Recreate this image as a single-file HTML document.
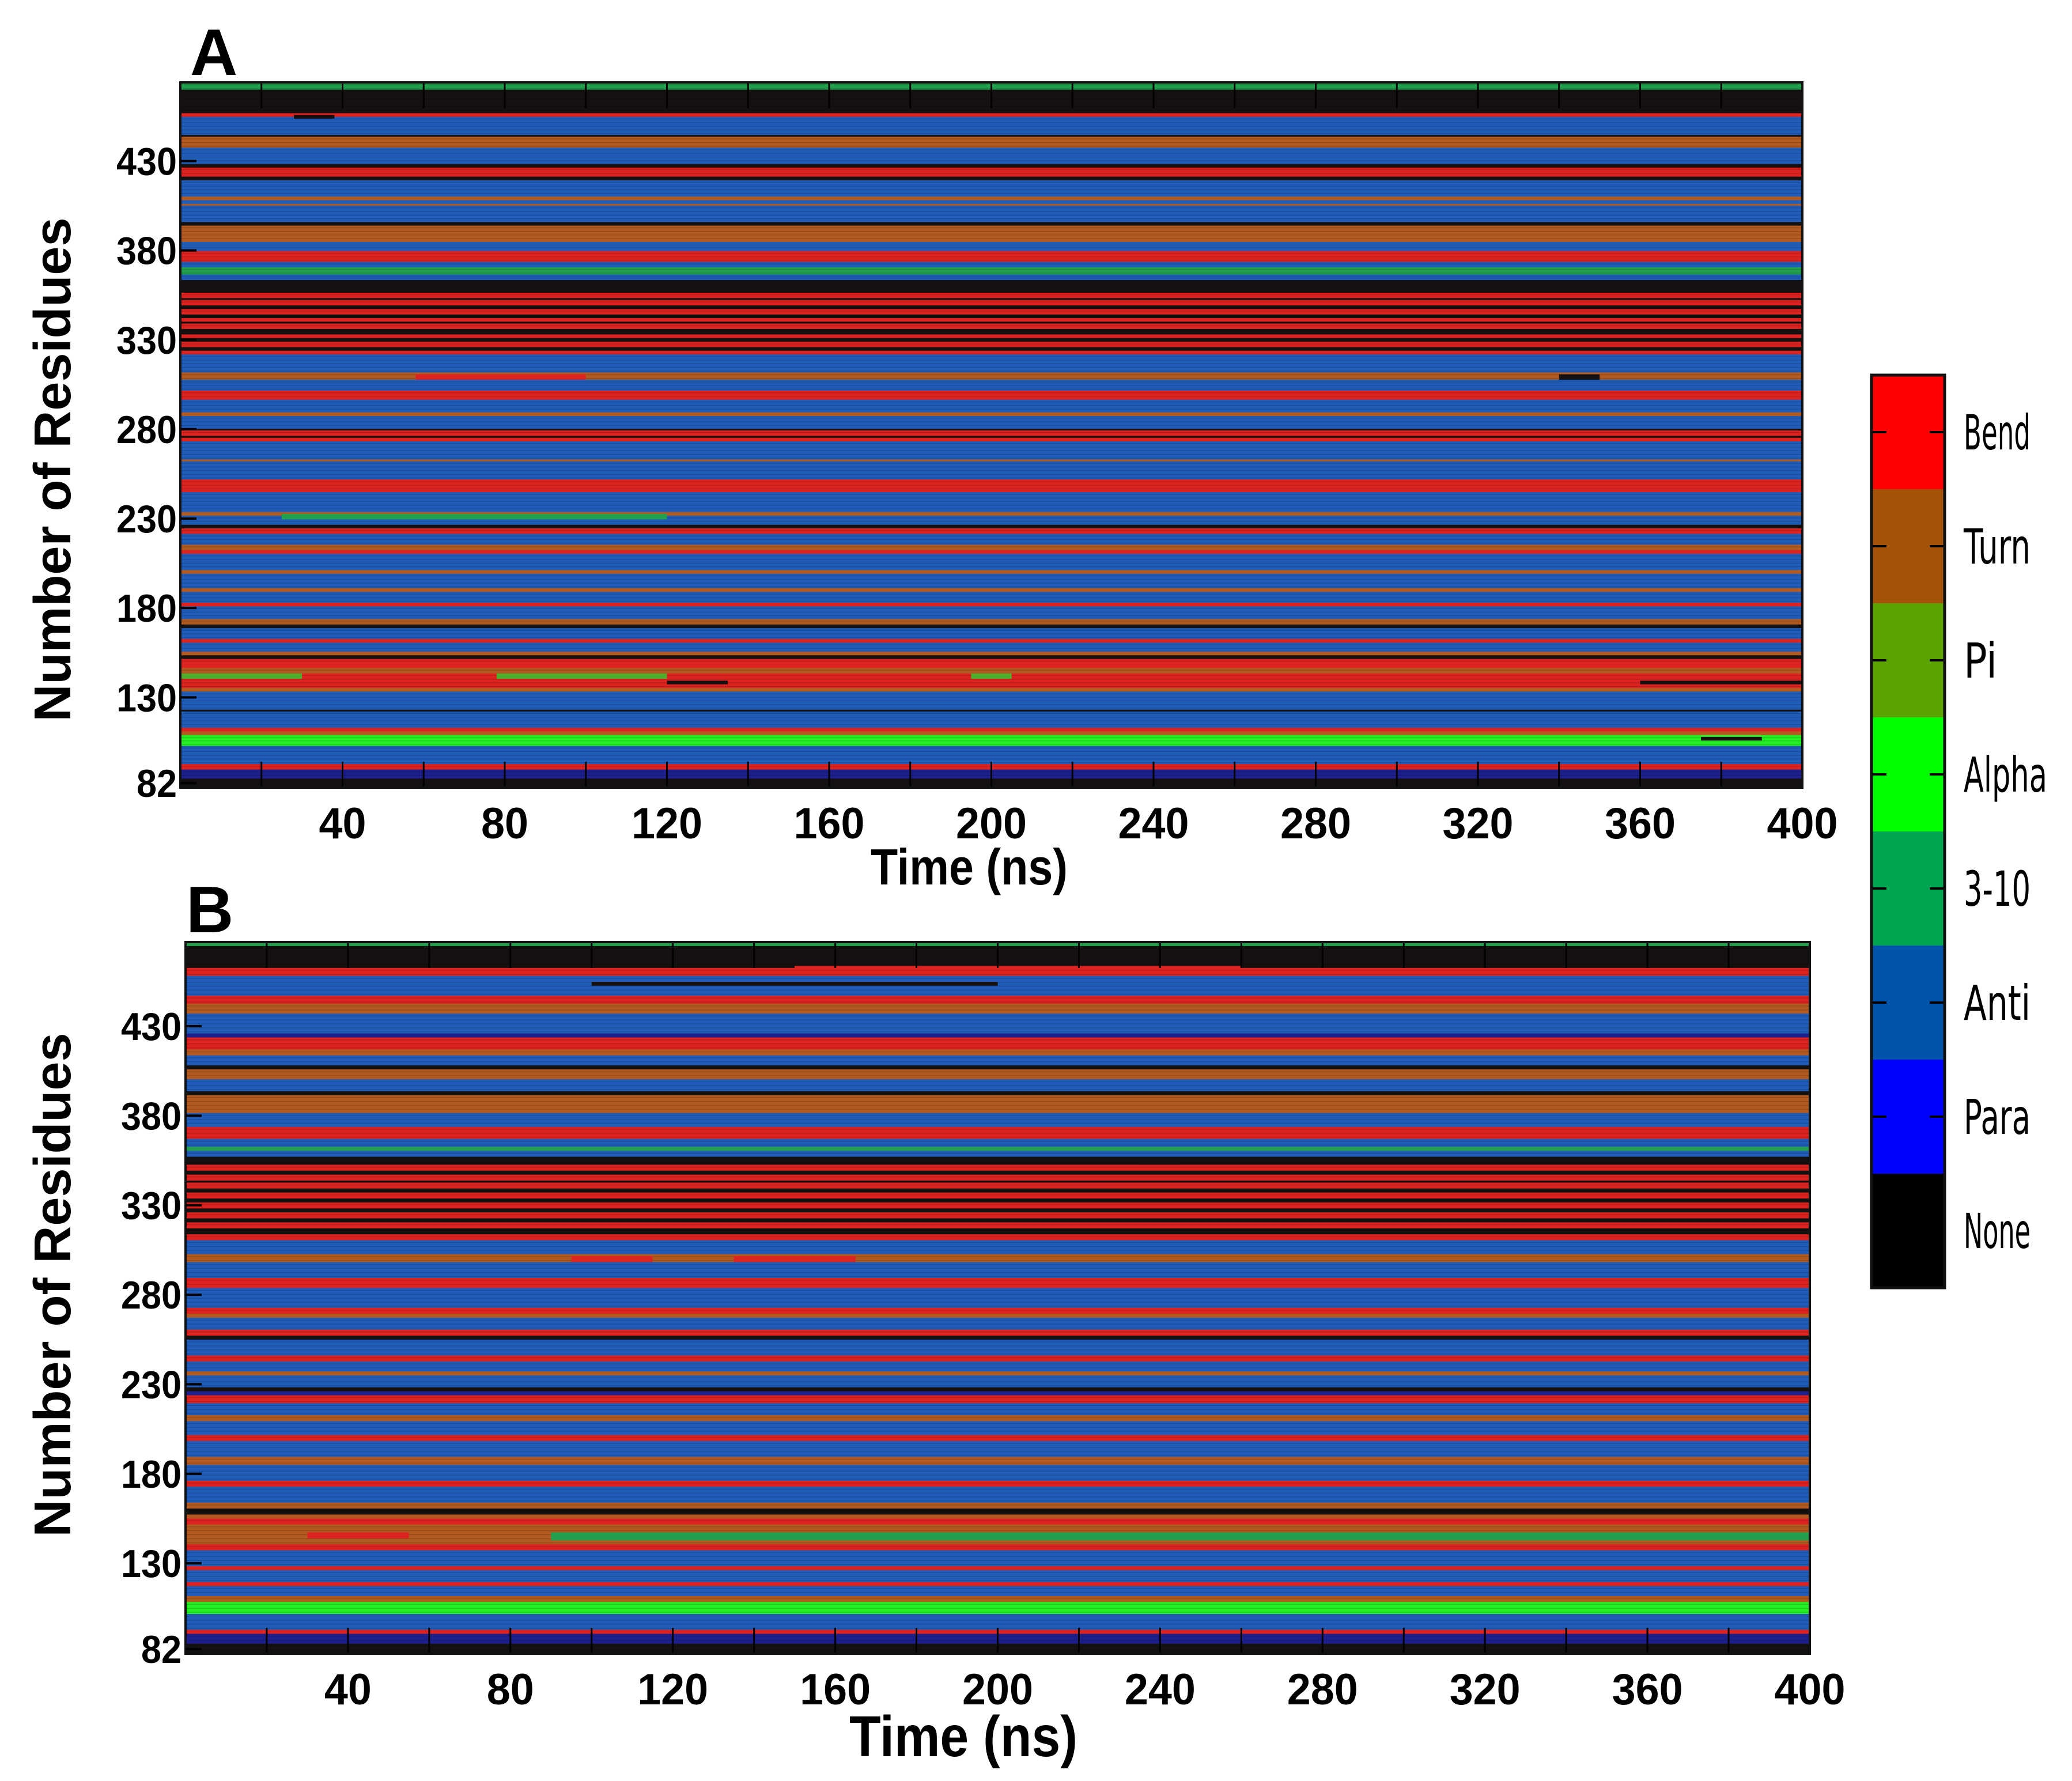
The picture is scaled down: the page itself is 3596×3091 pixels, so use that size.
<!DOCTYPE html>
<html><head><meta charset="utf-8"><style>
html,body{margin:0;padding:0;background:#fff;}
svg{display:block;}
</style></head><body>
<svg id="fig" xmlns="http://www.w3.org/2000/svg" width="3596" height="3091" viewBox="0 0 3596 3091">
<rect x="0" y="0" width="3596" height="3091" fill="#fff"/>
</svg>
<script>
// ---- data ----
const timeTicks = [40,80,120,160,200,240,280,320,360,400];
const minorTicks = [20,40,60,80,100,120,140,160,180,200,220,240,260,280,300,320,340,360,380];
const resTicks = [82,130,180,230,280,330,380,430];
const legendLabels = ["Bend","Turn","Pi","Alpha","3-10","Anti","Para","None"];
const legendCodes = ["S","T","I","H","G","E","B","N"];
// residue secondary-structure runs, top (high residue) to bottom
const runsA = "G4 N13 S2 E10 N1 T6 E9 N2 S5 N2 E9 T2 E2 T1 E9 N2 T9 E5 S6 E3 G4 E3 N7 S3 N1 S3 N2 S3 N2 S2 N1 S3 N3 S2 N2 S3 N2 S2 E10 T4 E6 S5 E7 T2 E7 N1 S3 N1 S2 E10 T1 E10 S7 E11 T2 E5 N2 S3 E6 T3 S2 E9 T2 E8 T2 E6 S2 E7 T3 N2 E6 S2 E5 T2 N2 S3 S2 T3 S8 T2 E10 N1 E9 S2 T2 H6 E10 S3 B5 N5".split(" ");
const runsB = "G2 N11 S4 E10 S4 T5 E10 B2 S6 T3 E5 N2 T5 E6 N2 T9 E7 S6 E4 G2 E3 N4 S3 N2 S3 N1 S3 N2 S3 N2 S3 N2 S3 N2 S3 N3 S3 E7 T4 E8 S5 E10 S3 T2 E6 S3 N2 E8 S3 E5 T2 E6 N2 B2 S4 E6 T3 E7 S3 E8 T4 E8 S3 E8 T3 N3 T2 S3 T4 T6 S3 E8 S2 E6 S2 E5 T3 H6 E8 S2 B5 N5".split(" ");
// time-dependent events: row index (from top), start ns, end ns, state
const evRowA   = [18, 161, 161, 238, 326, 326, 326, 330, 330, 361];
const evRowsA  = [2, 3, 3, 3, 3, 3, 3, 2, 2, 2];
const evStartA = [28, 58, 340, 25, 0, 78, 195, 120, 360, 375];
const evEndA   = [38, 100, 350, 120, 30, 120, 205, 135, 400, 390];
const evStateA = ["N","S","N","G","I","I","I","N","N","N"];
const evRowB   = [297, 297, 158, 158, 110, 12, 20];
const evRowsB  = [4, 3, 3, 3, 2, 2, 2];
const evStartB = [90, 30, 95, 135, 235, 150, 100];
const evEndB   = [400, 55, 115, 165, 245, 260, 200];
const evStateB = ["G","S","S","S","N","S","N"];

const heatColor = {S:"#dc2320",T:"#b25a1f",I:"#4fae2a",H:"#25f025",G:"#22a04e",E:"#1f5db8",B:"#1d1f8c",N:"#151111"};
const legendColor = {S:"#ff0000",T:"#a6530a",I:"#5ba400",H:"#00ff00",G:"#00a651",E:"#0055aa",B:"#0000ff",N:"#000000"};

const NS = "http://www.w3.org/2000/svg";
const svg = document.getElementById("fig");
function mk(tag, attrs, parent){
  const e = document.createElementNS(NS, tag);
  for (const k in attrs) e.setAttribute(k, attrs[k]);
  (parent||svg).appendChild(e);
  return e;
}
const FONT = '"Liberation Sans", Arial, sans-serif';

function drawPanel(p){
  const g = mk("g", {});
  
  
  const xs = t => p.x0 + (t/400)*(p.x1-p.x0);
  const ys = r => p.y1 - (r - p.rmin)/(p.rmax - p.rmin)*(p.y1-p.y0);
  const codes = p.runs.map(s=>s[0]);
  const lens = p.runs.map(s=>parseInt(s.slice(1)));
  const total = lens.reduce((a,b)=>a+b,0);
  const rh = (p.y1-p.y0)/total;
  const hm = mk("g", {}, g);
  
  
  let idx = 0;
  codes.forEach((c,i)=>{
    const r = mk("rect", {x:p.x0, y:(p.y0+idx*rh).toFixed(2), width:p.x1-p.x0, height:(lens[i]*rh+0.6).toFixed(2), fill:heatColor[c]}, hm);
    
    
    if (lens[i] > 2) {
      for (let k=1;k<lens[i];k+=2){
        mk("rect",{x:p.x0,y:(p.y0+(idx+k)*rh).toFixed(2),width:p.x1-p.x0,height:1.2,fill:"#000",opacity:0.18},hm);
      }
    }
    idx += lens[i];
  });
  p.evRow.forEach((row,i)=>{
    const e = mk("rect", {x:xs(p.evStart[i]).toFixed(1), y:(p.y0+row*rh).toFixed(2), width:(xs(p.evEnd[i])-xs(p.evStart[i])).toFixed(1), height:(p.evRows[i]*rh).toFixed(2), fill:heatColor[p.evState[i]]}, hm);
    
    
  });
  minorTicks.forEach(t=>{
    const x = xs(t);
    mk("line",{x1:x,y1:p.y0,x2:x,y2:p.y0+45,stroke:"#000","stroke-width":3},g);
    mk("line",{x1:x,y1:p.y1,x2:x,y2:p.y1-45,stroke:"#000","stroke-width":3},g);
  });
  const fr = mk("rect",{x:p.x0,y:p.y0,width:p.x1-p.x0,height:p.y1-p.y0,fill:"none",stroke:"#111","stroke-width":4},g);
  
  
  timeTicks.forEach(t=>{
    const tx = mk("text",{x:xs(t),y:p.tickY,"text-anchor":"middle","font-family":FONT,"font-weight":"bold","font-size":76,textLength:String(t).length*41,lengthAdjust:"spacingAndGlyphs",fill:"#000"},g);
    tx.textContent = t;
    
    
  });
  resTicks.forEach(r=>{
    const y = ys(r);
    mk("line",{x1:p.x0,y1:y,x2:p.x0+28,y2:y,stroke:"#000","stroke-width":4},g);
    const tx = mk("text",{x:p.labelX,y:y+24,"text-anchor":"end","font-family":FONT,"font-weight":"bold","font-size":68,textLength:String(r).length*35,lengthAdjust:"spacingAndGlyphs",fill:"#000"},g);
    tx.textContent = r;
    
    
  });
  const xt = mk("text",{x:p.titleX,y:p.titleY,"text-anchor":"middle","font-family":FONT,"font-weight":"bold","font-size":p.titleSize,textLength:p.titleLen,lengthAdjust:"spacingAndGlyphs",fill:"#000"},g);
  xt.textContent = "Time (ns)";
  
  
  const yt = mk("text",{x:0,y:0,transform:`translate(122 ${p.yTitleC}) rotate(-90)`,"text-anchor":"middle","font-family":FONT,"font-weight":"bold","font-size":90,textLength:875,lengthAdjust:"spacingAndGlyphs",fill:"#000"},g);
  yt.textContent = "Number of Residues";
  
  
  const lt = mk("text",{x:p.letterX,y:p.letterY,"font-family":FONT,"font-weight":"bold","font-size":114,fill:"#000"},g);
  lt.textContent = p.id;
  
  
}

drawPanel({id:"A",x0:313,x1:3128,y0:143,y1:1367,rmin:79.5,rmax:474,runs:runsA,
  evRow:evRowA,evRows:evRowsA,evStart:evStartA,evEnd:evEndA,evState:evStateA,
  tickY:1455,labelX:307,titleX:1682,titleY:1535,titleSize:88,titleLen:342,letterX:330,letterY:130,yTitleC:815});
drawPanel({id:"B",x0:322,x1:3141,y0:1635,y1:2870,rmin:79.5,rmax:477,runs:runsB,
  evRow:evRowB,evRows:evRowsB,evStart:evStartB,evEnd:evEndB,evState:evStateB,
  tickY:2958,labelX:315,titleX:1672,titleY:3048,titleSize:100,titleLen:396,letterX:323,letterY:1618,yTitleC:2230});

const cb = mk("g",{});


const cbX0 = 3248, cbX1 = 3375, cbY0 = 651, segH = 198;
legendCodes.forEach((c,i)=>{
  const y = cbY0 + i*segH;
  const r = mk("rect",{x:cbX0,y:y,width:cbX1-cbX0,height:segH,fill:legendColor[c]},cb);
  
  
  const yc = y + segH/2;
  mk("line",{x1:cbX0,y1:yc,x2:cbX0+26,y2:yc,stroke:"#000","stroke-width":4},cb);
  mk("line",{x1:cbX1-26,y1:yc,x2:cbX1,y2:yc,stroke:"#000","stroke-width":4},cb);
  const t = mk("text",{x:3408,y:yc+30,"font-family":'"DejaVu Sans", sans-serif',"font-size":84,textLength:legendLabels[i].length*29,lengthAdjust:"spacingAndGlyphs",fill:"#000"},cb);
  t.textContent = legendLabels[i];
  
  
});
mk("rect",{x:cbX0,y:cbY0,width:cbX1-cbX0,height:segH*8,fill:"none",stroke:"#111","stroke-width":5},cb);
</script>
</body></html>
